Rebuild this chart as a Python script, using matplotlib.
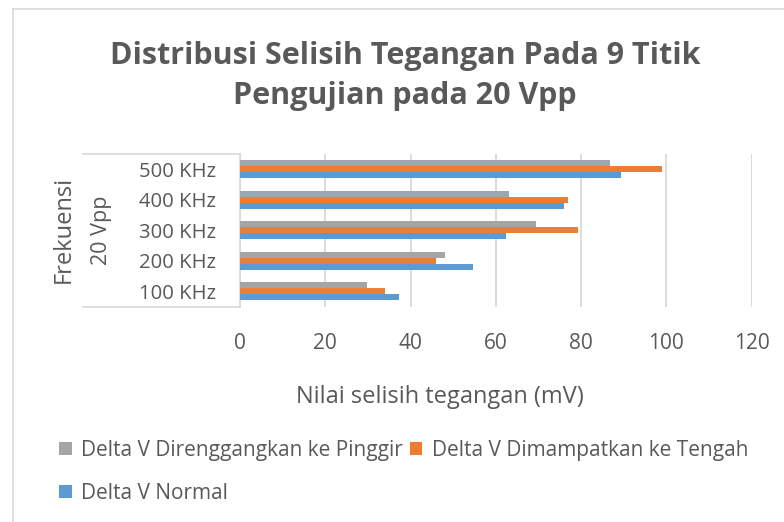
import matplotlib
matplotlib.use("Agg")
import matplotlib.pyplot as plt
from matplotlib.lines import Line2D
import numpy as np

categories = ["100 KHz", "200 KHz", "300 KHz", "400 KHz", "500 KHz"]
pinggir = [29.9, 48.1, 69.4, 63.0, 86.9]
tengah = [33.9, 45.9, 79.3, 77.0, 98.9]
normal = [37.2, 54.6, 62.4, 76.0, 89.3]
series_names = ["Delta V Direnggangkan ke Pinggir", "Delta V Dimampatkan ke Tengah", "Delta V Normal"]
xticks = [0, 20, 40, 60, 80, 100, 120]

plt.rcParams['font.family'] = ['Open Sans', 'DejaVu Sans']
TXT = '#595959'
GRID = '#d9d9d9'
C_GRAY = '#a5a5a5'
C_ORANGE = '#ed7d31'
C_BLUE = '#5b9bd5'

W, H = 784, 522
fig = plt.figure(figsize=(W / 100, H / 100), dpi=100)

def fx(px):
    return px / W

def fy(py):
    return 1 - py / H

# chart border (left and top visible)
fig.add_artist(Line2D([fx(13), fx(13)], [fy(9), 0], color=GRID, lw=1.2))
fig.add_artist(Line2D([fx(13), 1], [fy(9), fy(9)], color=GRID, lw=1.2))

left, right, top, bottom = 240, 751.6, 154, 306.5
ax = fig.add_axes([fx(left), fy(bottom), fx(right - left), (bottom - top) / H])

y = np.arange(len(categories))
h = 0.2
b_blue = ax.barh(y - h, normal, height=h, color=C_BLUE, label=series_names[2], zorder=3)
b_orange = ax.barh(y, tengah, height=h, color=C_ORANGE, label=series_names[1], zorder=3)
b_gray = ax.barh(y + h, pinggir, height=h, color=C_GRAY, label=series_names[0], zorder=3)

ax.set_xlim(0, 120)
ax.set_ylim(-0.5, len(categories) - 0.5)
ax.set_xticks(xticks)
ax.set_xticklabels([str(v) for v in xticks], color=TXT, fontsize=15)
ax.set_yticks(y)
ax.set_yticklabels(categories, color=TXT, fontsize=14.6)
ax.tick_params(axis='x', length=0, pad=19)
ax.tick_params(axis='y', length=0, pad=17.5)
ax.grid(axis='x', color=GRID, lw=1.3, zorder=0)
for s in ['top', 'right', 'bottom']:
    ax.spines[s].set_visible(False)
ax.spines['left'].set_color(GRID)
ax.spines['left'].set_linewidth(1.2)

fig.text(fx(440), fy(397), "Nilai selisih tegangan (mV)", ha='center', va='center',
         color=TXT, fontsize=17)

# multi-level category box lines
fig.add_artist(Line2D([fx(83), fx(240)], [fy(154), fy(154)], color=GRID, lw=1.2))
fig.add_artist(Line2D([fx(83), fx(240)], [fy(306.5), fy(306.5)], color=GRID, lw=1.2))
fig.text(fx(102), fy(230), "20 Vpp", rotation=90, ha='center', va='center', color=TXT, fontsize=15.5)
fig.text(fx(64), fy(229), "Frekuensi", rotation=90, ha='center', va='center', color=TXT, fontsize=17)

fig.text(fx(405), fy(76), "Distribusi Selisih Tegangan Pada 9 Titik\nPengujian pada 20 Vpp",
         ha='center', va='center', color=TXT, fontsize=22, fontweight='bold', linespacing=1.45)

leg = fig.legend([b_gray, b_blue, b_orange],
                 [series_names[0], series_names[2], series_names[1]],
                 ncol=2, loc='upper left', bbox_to_anchor=(fx(59), fy(440)),
                 frameon=False, fontsize=15, handlelength=0.6, handleheight=0.6,
                 handletextpad=0.45, columnspacing=0.35, labelspacing=1.05,
                 borderpad=0, borderaxespad=0)
for t in leg.get_texts():
    t.set_color(TXT)

fig.savefig("out.png", dpi=100)
